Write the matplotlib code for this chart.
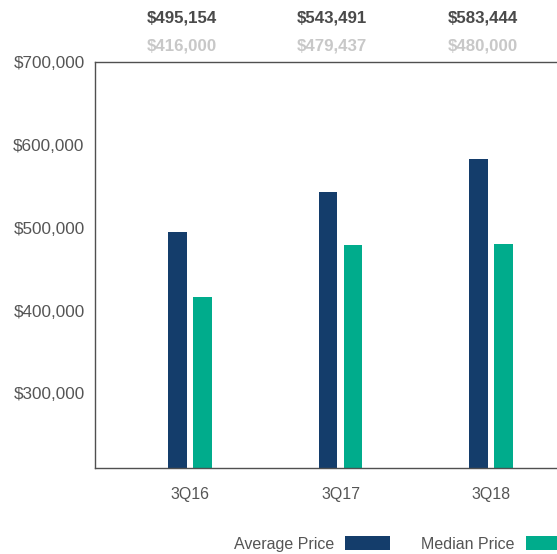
import matplotlib
matplotlib.use("Agg")
import matplotlib.pyplot as plt
from matplotlib.patches import Patch
from matplotlib.ticker import FuncFormatter
import numpy as np

plt.rcParams['font.family'] = ['Liberation Sans', 'DejaVu Sans']

categories = ["3Q16", "3Q17", "3Q18"]
average_price = [495154, 543491, 583444]
median_price = [416000, 479437, 480000]
average_labels = ["$495,154", "$543,491", "$583,444"]
median_labels = ["$416,000", "$479,437", "$480,000"]
yticks = [300000, 400000, 500000, 600000, 700000]

NAVY = "#143d6b"
GREEN = "#00ac8c"
TEXT = "#555555"
SPINE = "#505050"

W, H = 557, 554
fig = plt.figure(figsize=(W / 100, H / 100), dpi=100)

left_px, right_px, top_px, bottom_px = 95, 566, 62, 468
ax = fig.add_axes([left_px / W, (H - bottom_px) / H,
                   (right_px - left_px) / W, (bottom_px - top_px) / H])

x = np.arange(len(categories))
bw = 0.126
off = 0.083
ax.bar(x - off, average_price, width=bw, color=NAVY, label="Average Price", zorder=2)
ax.bar(x + off, median_price, width=bw, color=GREEN, label="Median Price", zorder=2)

ax.set_xlim(-0.631, 2.498)
ax.set_ylim(210000, 700000)
ax.set_yticks(yticks)
ax.yaxis.set_major_formatter(FuncFormatter(lambda v, p: f"${v:,.0f}"))
ax.set_xticks(x)
ax.set_xticklabels(categories)
ax.tick_params(axis='y', length=0, pad=7.5, labelsize=12.3, labelcolor=TEXT)
ax.tick_params(axis='x', length=0, pad=14, labelsize=11.5, labelcolor=TEXT)

for s in ax.spines.values():
    s.set_color(SPINE)
    s.set_linewidth(1.0)

# value labels above the plot
for i in range(len(categories)):
    ax.text(i - 0.055, 1.0 + 44 / 406, average_labels[i], transform=ax.get_xaxis_transform(),
            ha='center', va='center', fontsize=12.2, fontweight='bold', color="#4a4a4a")
    ax.text(i - 0.055, 1.0 + 16 / 406, median_labels[i], transform=ax.get_xaxis_transform(),
            ha='center', va='center', fontsize=12.2, fontweight='bold', color="#c8c8c8")

handles = [Patch(facecolor=NAVY, label="Average Price"),
           Patch(facecolor=GREEN, label="Median Price")]
fig.legend(handles=handles, loc='center left', bbox_to_anchor=(234 / W, (H - 544) / H),
           ncol=2, frameon=False, markerfirst=False, fontsize=11.5,
           handlelength=2.8, handleheight=1.0, handletextpad=0.69,
           columnspacing=1.94, borderpad=0, borderaxespad=0, labelcolor=TEXT)

fig.savefig("out.png", dpi=100)
